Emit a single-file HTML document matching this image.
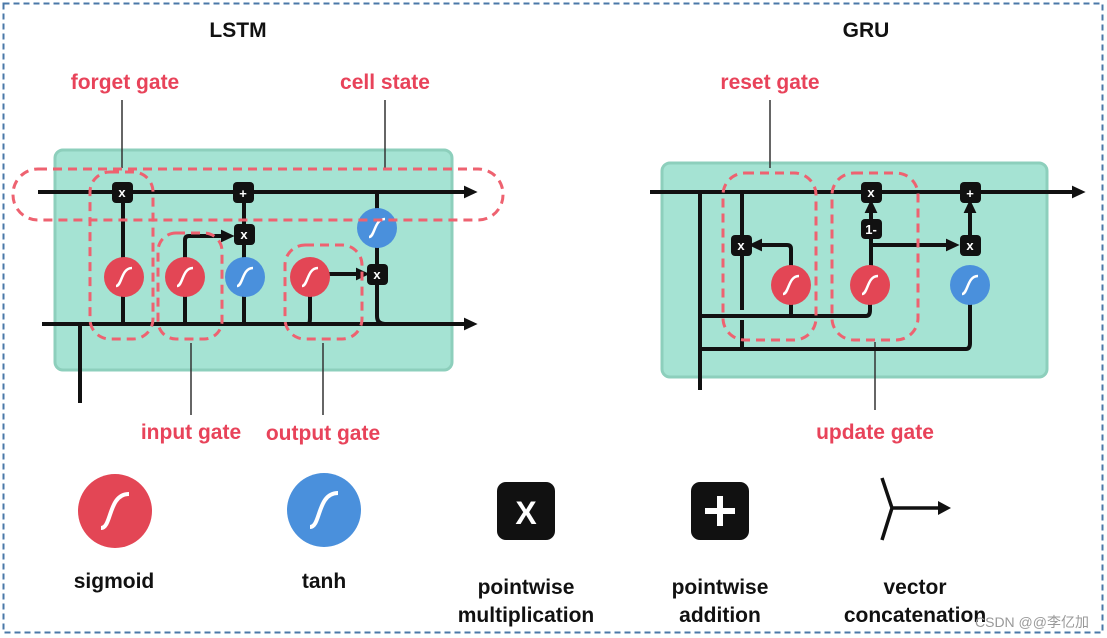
<!DOCTYPE html>
<html><head><meta charset="utf-8"><style>
html,body{margin:0;padding:0;background:#fff;}
svg{display:block;font-family:"Liberation Sans",Arial,sans-serif;}
.r{fill:#e8435a;font-size:21px;font-weight:bold;text-anchor:middle;}
.k{fill:#111;font-size:21px;font-weight:bold;text-anchor:middle;}
.ln{stroke:#111;stroke-width:4;fill:none;}
.tl{stroke:#333;stroke-width:1.5;}
.dash{fill:none;stroke:#ee6270;stroke-width:3;stroke-dasharray:9,6;}
.bx text{fill:#fff;font-size:13px;font-weight:bold;text-anchor:middle;}
</style></head><body>
<svg width="1107" height="638" viewBox="0 0 1107 638">
<defs>
<marker id="a" markerWidth="4" markerHeight="4" refX="1.5" refY="1.6" orient="auto" markerUnits="strokeWidth"><path d="M0,0 L3.4,1.6 L0,3.2 Z" fill="#111"/></marker>
<g id="sig"><path d="M-8,9 C-2,9 -3,-9 8,-9" stroke="#fff" stroke-width="2.5" fill="none"/></g>
</defs>
<rect x="3.5" y="3.5" width="1099" height="629" fill="none" stroke="#4a78a8" stroke-width="2" stroke-dasharray="6,4"/>

<text x="238" y="37" class="k" font-size="19">LSTM</text>
<text x="866" y="37" class="k" font-size="19">GRU</text>

<!-- LSTM -->
<rect x="55" y="150" width="397" height="220" rx="8" fill="#a5e3d3" stroke="#8dcfbc" stroke-width="3"/>
<line class="tl" x1="122" y1="100" x2="122" y2="168"/>
<line class="tl" x1="385" y1="100" x2="385" y2="168"/>
<line class="tl" x1="191" y1="343" x2="191" y2="415"/>
<line class="tl" x1="323" y1="343" x2="323" y2="415"/>
<text x="125" y="89" class="r">forget gate</text>
<text x="385" y="89" class="r">cell state</text>
<text x="191" y="439" class="r">input gate</text>
<text x="323" y="440" class="r">output gate</text>

<line class="ln" x1="38" y1="192" x2="470" y2="192" marker-end="url(#a)"/>
<line class="ln" x1="42" y1="324" x2="470" y2="324" marker-end="url(#a)"/>
<line class="ln" x1="80" y1="324" x2="80" y2="403"/>
<line class="ln" x1="123" y1="192" x2="123" y2="324"/>
<line class="ln" x1="185" y1="324" x2="185" y2="277"/>
<path class="ln" d="M185,277 V240 Q185,236 189,236 H227" marker-end="url(#a)"/>
<line class="ln" x1="244" y1="192" x2="244" y2="324"/>
<path class="ln" d="M308,324 Q310,324 310,318 V277"/>
<line class="ln" x1="320" y1="274" x2="362" y2="274" marker-end="url(#a)"/>
<line class="ln" x1="377" y1="192" x2="377" y2="274"/>
<path class="ln" d="M377,274 V316 Q377,324 385,324"/>

<circle cx="124" cy="277" r="20" fill="#e34655"/><use href="#sig" x="124" y="277"/>
<circle cx="185" cy="277" r="20" fill="#e34655"/><use href="#sig" x="185" y="277"/>
<circle cx="245" cy="277" r="20" fill="#4a90dc"/><use href="#sig" x="245" y="277"/>
<circle cx="310" cy="277" r="20" fill="#e34655"/><use href="#sig" x="310" y="277"/>
<circle cx="377" cy="228" r="20" fill="#4a90dc"/><use href="#sig" x="377" y="228"/>

<g class="bx">
<rect x="112" y="182" width="21" height="21" rx="4" fill="#111"/><text x="122" y="197">x</text>
<rect x="233" y="182" width="21" height="21" rx="4" fill="#111"/><text x="243" y="198" font-size="16">+</text>
<rect x="234" y="224" width="21" height="21" rx="4" fill="#111"/><text x="244" y="239">x</text>
<rect x="367" y="264" width="21" height="21" rx="4" fill="#111"/><text x="377" y="279">x</text>
</g>

<rect x="13" y="169" width="490" height="51" rx="25" class="dash"/>
<rect x="90" y="172" width="63" height="167" rx="20" class="dash"/>
<rect x="158" y="233" width="64" height="106" rx="18" class="dash"/>
<rect x="285" y="245" width="77" height="94" rx="20" class="dash"/>

<!-- GRU -->
<rect x="662" y="163" width="385" height="214" rx="8" fill="#a5e3d3" stroke="#8dcfbc" stroke-width="3"/>
<line class="tl" x1="770" y1="100" x2="770" y2="168"/>
<line class="tl" x1="875" y1="342" x2="875" y2="410"/>
<text x="770" y="89" class="r">reset gate</text>
<text x="875" y="439" class="r">update gate</text>

<line class="ln" x1="650" y1="192" x2="1078" y2="192" marker-end="url(#a)"/>
<line class="ln" x1="700" y1="192" x2="700" y2="390"/>
<line class="ln" x1="742" y1="192" x2="742" y2="310"/>
<path class="ln" d="M700,316 H866 Q870,316 870,310 V285"/>
<path class="ln" d="M791,316 V249 Q791,245 787,245 H756" marker-end="url(#a)"/>
<line class="ln" x1="742" y1="320" x2="742" y2="349"/>
<path class="ln" d="M700,349 H966 Q970,349 970,343 V285"/>
<line class="ln" x1="871" y1="285" x2="871" y2="207" marker-end="url(#a)"/>
<line class="ln" x1="871" y1="245" x2="952" y2="245" marker-end="url(#a)"/>
<line class="ln" x1="970" y1="245" x2="970" y2="207" marker-end="url(#a)"/>

<circle cx="791" cy="285" r="20" fill="#e34655"/><use href="#sig" x="791" y="285"/>
<circle cx="870" cy="285" r="20" fill="#e34655"/><use href="#sig" x="870" y="285"/>
<circle cx="970" cy="285" r="20" fill="#4a90dc"/><use href="#sig" x="970" y="285"/>
<g class="bx">
<rect x="861" y="182" width="21" height="21" rx="4" fill="#111"/><text x="871" y="197">x</text>
<rect x="960" y="182" width="21" height="21" rx="4" fill="#111"/><text x="970" y="198" font-size="16">+</text>
<rect x="861" y="219" width="21" height="20" rx="4" fill="#111"/><text x="871" y="234" font-size="11">1-</text>
<rect x="731" y="235" width="21" height="21" rx="4" fill="#111"/><text x="741" y="250">x</text>
<rect x="960" y="235" width="21" height="21" rx="4" fill="#111"/><text x="970" y="250">x</text>
</g>
<rect x="723" y="173" width="93" height="167" rx="22" class="dash"/>
<rect x="832" y="173" width="86" height="167" rx="22" class="dash"/>

<!-- legend -->
<ellipse cx="115" cy="511" rx="37" ry="37" fill="#e34655"/>
<path d="M101,528 C112,528 108,494 129,494" stroke="#fff" stroke-width="4" fill="none"/>
<ellipse cx="324" cy="510" rx="37" ry="37" fill="#4a90dc"/>
<path d="M310,527 C321,527 317,493 338,493" stroke="#fff" stroke-width="4" fill="none"/>
<rect x="497" y="482" width="58" height="58" rx="9" fill="#111"/>
<text x="526" y="524" fill="#fff" font-size="32" font-weight="bold" text-anchor="middle">X</text>
<rect x="691" y="482" width="58" height="58" rx="9" fill="#111"/>
<path d="M720,496 V526 M705,511 H735" stroke="#fff" stroke-width="6"/>
<path d="M882,478 L892,508 L882,540 M892,508 H940" stroke="#111" stroke-width="3.5" fill="none"/>
<path d="M938,501 L951,508 L938,515 Z" fill="#111"/>

<text x="114" y="588" class="k">sigmoid</text>
<text x="324" y="588" class="k">tanh</text>
<text x="526" y="594" class="k">pointwise</text>
<text x="526" y="622" class="k">multiplication</text>
<text x="720" y="594" class="k">pointwise</text>
<text x="720" y="622" class="k">addition</text>
<text x="915" y="594" class="k">vector</text>
<text x="915" y="622" class="k">concatenation</text>
<text x="1032" y="627" fill="#999" font-size="14" text-anchor="middle" font-family="Liberation Sans,Noto Sans CJK SC,sans-serif">CSDN @@李亿加</text>
</svg>
</body></html>
